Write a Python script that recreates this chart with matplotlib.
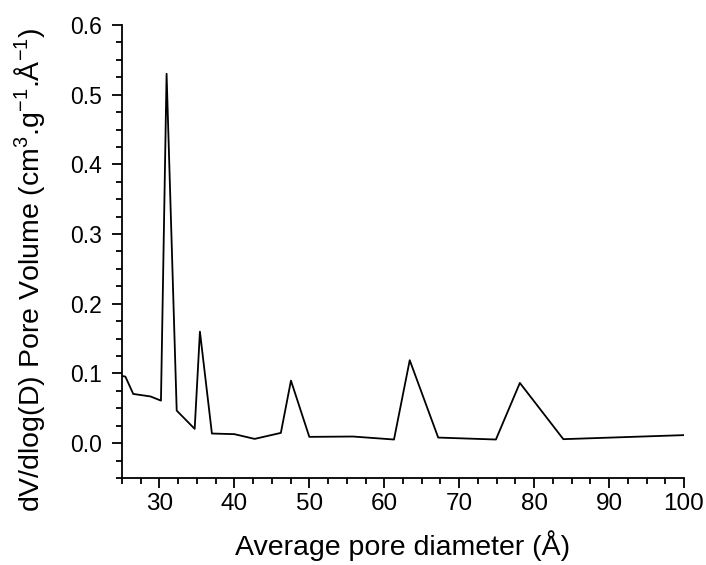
import matplotlib
matplotlib.use("Agg")
import matplotlib.pyplot as plt
from matplotlib.ticker import MultipleLocator

diameter = [25.0, 25.45, 26.5, 28.8, 30.2, 30.95, 32.3, 34.7, 35.4, 37.0, 40.0, 42.7,
            46.2, 47.55, 50.0, 55.8, 61.3, 63.4, 67.2, 74.9, 78.1, 83.9, 100.0]
pore_volume = [0.0964, 0.0955, 0.0706, 0.067, 0.061, 0.530, 0.0467, 0.0205, 0.160, 0.0138,
               0.0129, 0.0061, 0.0147, 0.0897, 0.009, 0.0095, 0.0052, 0.119, 0.008,
               0.0052, 0.0864, 0.0057, 0.0115]
y_ticks = [0.0, 0.1, 0.2, 0.3, 0.4, 0.5, 0.6]
y_tick_labels = ['0.0', '0.1', '0.2', '0.3', '0.4', '0.5', '0.6']

plt.rcParams['font.family'] = ['Liberation Sans', 'DejaVu Sans']
plt.rcParams['mathtext.fontset'] = 'custom'
plt.rcParams['mathtext.rm'] = 'Liberation Sans'

fig = plt.figure(figsize=(7.06, 5.65), dpi=100)
ax = fig.add_axes([0.1728, 0.154, 0.796, 0.8018])
ax.plot(diameter, pore_volume, color='black', lw=1.3)
ax.set_xlim(25, 100)
ax.set_ylim(-0.05, 0.6)
ax.xaxis.set_major_locator(MultipleLocator(10))
ax.xaxis.set_minor_locator(MultipleLocator(2.5))
ax.yaxis.set_minor_locator(MultipleLocator(0.025))
ax.set_yticks(y_ticks)
ax.set_yticklabels(y_tick_labels)
for s in ['top', 'right']:
    ax.spines[s].set_visible(False)
for s in ['left', 'bottom']:
    ax.spines[s].set_linewidth(1.3)
ax.tick_params(which='major', direction='out', length=7.5, width=1.3)
ax.tick_params(which='minor', direction='out', length=4, width=1.3)
ax.tick_params(axis='x', which='major', labelsize=17.5, pad=3)
ax.tick_params(axis='y', which='major', labelsize=16.5, pad=7)
ax.set_xlabel('Average pore diameter (Å)', fontsize=20.5, labelpad=11)
ax.set_ylabel(r'dV/dlog(D) Pore Volume (cm$^3$.g$^{-1}$.Å$^{-1}$)', fontsize=20.5)
ax.yaxis.set_label_coords(-0.132, 0.46)
fig.savefig('out.png', dpi=100)
